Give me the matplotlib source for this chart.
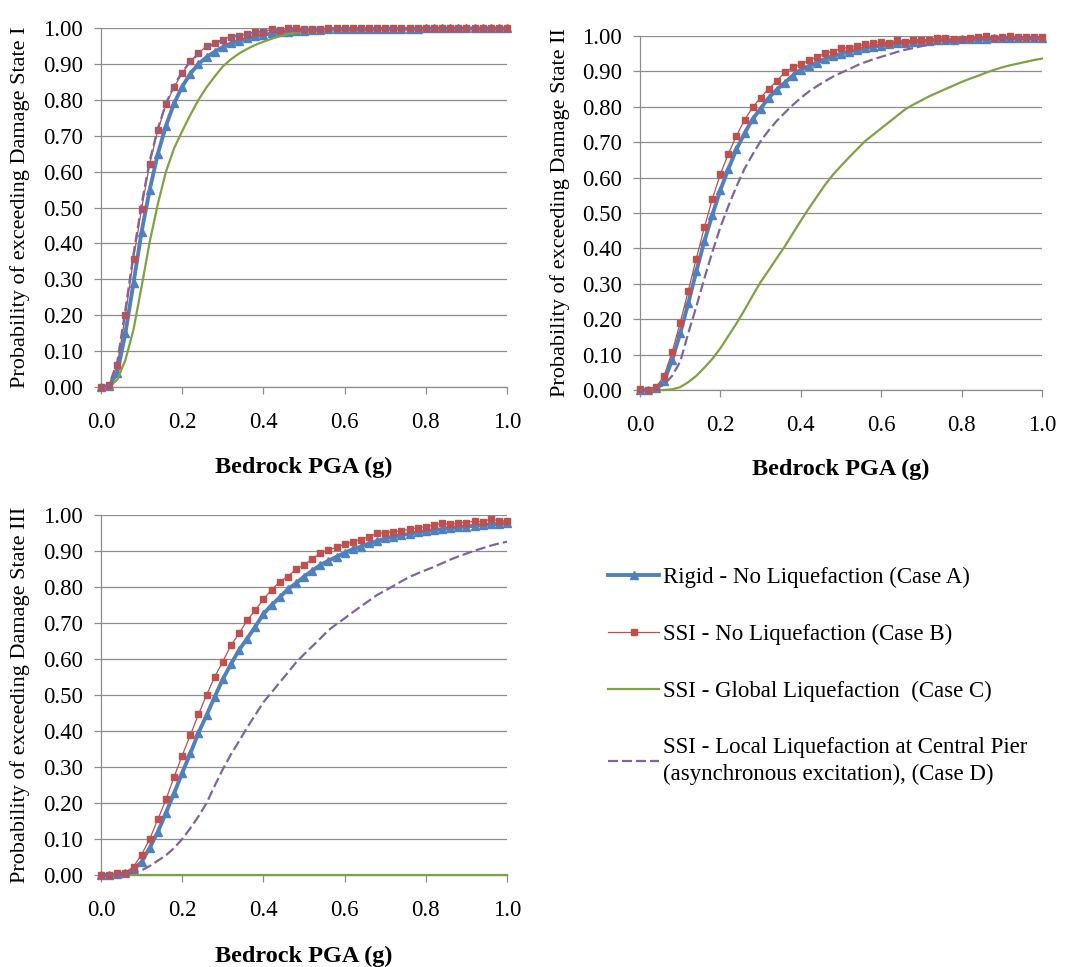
import matplotlib
matplotlib.use("Agg")
import matplotlib.pyplot as plt
from matplotlib.ticker import FormatStrFormatter

plt.rcParams['font.family'] = ['Liberation Serif', 'DejaVu Serif']

# bedrock PGA (g), one point every 0.02 g
pga = [0.00, 0.02, 0.04, 0.06, 0.08, 0.10, 0.12, 0.14, 0.16, 0.18,
       0.20, 0.22, 0.24, 0.26, 0.28, 0.30, 0.32, 0.34, 0.36, 0.38,
       0.40, 0.42, 0.44, 0.46, 0.48, 0.50, 0.52, 0.54, 0.56, 0.58,
       0.60, 0.62, 0.64, 0.66, 0.68, 0.70, 0.72, 0.74, 0.76, 0.78,
       0.80, 0.82, 0.84, 0.86, 0.88, 0.90, 0.92, 0.94, 0.96, 0.98, 1.00]

# Damage State I
ds1_case_a = [0.000, 0.002, 0.040, 0.150, 0.290, 0.433, 0.550, 0.650, 0.728, 0.790,
              0.837, 0.873, 0.900, 0.919, 0.934, 0.947, 0.957, 0.965, 0.971, 0.977,
              0.981, 0.985, 0.988, 0.990, 0.992, 0.993, 0.994, 0.995, 0.996, 0.996,
              0.997, 0.997, 0.997, 0.997, 0.998, 0.998, 0.998, 0.998, 0.998, 0.998,
              0.999, 0.999, 0.999, 0.999, 0.999, 0.999, 0.999, 0.999, 0.999, 0.999, 0.999]
ds1_case_b = [0.000, 0.005, 0.060, 0.200, 0.356, 0.497, 0.622, 0.715, 0.787, 0.836,
              0.874, 0.908, 0.930, 0.950, 0.957, 0.968, 0.976, 0.978, 0.983, 0.988,
              0.990, 0.996, 0.995, 1.000, 1.000, 0.998, 0.997, 0.998, 0.999, 1.000,
              1.000, 1.000, 1.000, 1.000, 1.000, 0.999, 1.000, 0.999, 0.999, 0.999,
              0.999, 0.999, 0.999, 0.999, 0.999, 0.999, 0.999, 0.999, 0.999, 0.999, 0.999]
ds1_case_c = [0.000, 0.000, 0.020, 0.075, 0.160, 0.280, 0.405, 0.510, 0.600, 0.665,
              0.713, 0.758, 0.800, 0.835, 0.865, 0.893, 0.913, 0.929, 0.942, 0.953,
              0.962, 0.970, 0.977, 0.983, 0.987, 0.990, 0.992, 0.994, 0.995, 0.996,
              0.997, 0.997, 0.997, 0.998, 0.998, 0.998, 0.998, 0.998, 0.998, 0.999,
              0.999, 0.999, 0.999, 0.999, 0.999, 0.999, 0.999, 0.999, 0.999, 0.999, 0.999]
ds1_case_d = [0.000, 0.006, 0.070, 0.215, 0.370, 0.510, 0.630, 0.720, 0.790, 0.840,
              0.878, 0.906, 0.928, 0.945, 0.957, 0.967, 0.974, 0.980, 0.984, 0.988,
              0.991, 0.993, 0.995, 0.996, 0.997, 0.998, 0.998, 0.999, 0.999, 0.999,
              0.999, 0.999, 0.999, 0.999, 0.999, 0.999, 0.999, 0.999, 0.999, 0.999,
              0.999, 0.999, 0.999, 0.999, 0.999, 0.999, 0.999, 0.999, 0.999, 0.999, 0.999]

# Damage State II
ds2_case_a = [0.000, 0.000, 0.005, 0.025, 0.085, 0.160, 0.245, 0.335, 0.420, 0.495,
              0.565, 0.625, 0.680, 0.725, 0.765, 0.795, 0.825, 0.848, 0.868, 0.888,
              0.905, 0.915, 0.925, 0.935, 0.943, 0.950, 0.956, 0.961, 0.966, 0.970,
              0.973, 0.976, 0.979, 0.981, 0.983, 0.985, 0.987, 0.988, 0.989, 0.990,
              0.991, 0.991, 0.992, 0.992, 0.993, 0.993, 0.993, 0.994, 0.994, 0.994, 0.994]
ds2_case_b = [0.002, 0.000, 0.008, 0.040, 0.108, 0.190, 0.280, 0.371, 0.459, 0.540,
              0.610, 0.668, 0.718, 0.763, 0.798, 0.826, 0.850, 0.873, 0.897, 0.911,
              0.920, 0.931, 0.941, 0.951, 0.956, 0.965, 0.967, 0.972, 0.976, 0.979,
              0.984, 0.980, 0.989, 0.984, 0.990, 0.989, 0.989, 0.995, 0.993, 0.992,
              0.992, 0.994, 0.996, 0.999, 0.995, 0.998, 0.999, 0.996, 0.997, 0.997, 0.996]
ds2_case_c = [0.000, 0.000, 0.000, 0.000, 0.002, 0.008, 0.022, 0.040, 0.063, 0.088,
              0.118, 0.153, 0.188, 0.226, 0.266, 0.305, 0.338, 0.372, 0.405, 0.442,
              0.478, 0.513, 0.546, 0.579, 0.608, 0.633, 0.657, 0.680, 0.703, 0.721,
              0.739, 0.757, 0.775, 0.793, 0.806, 0.818, 0.830, 0.840, 0.850, 0.860,
              0.870, 0.879, 0.887, 0.896, 0.904, 0.911, 0.917, 0.922, 0.927, 0.932, 0.936]
ds2_case_d = [0.000, 0.000, 0.004, 0.015, 0.040, 0.080, 0.160, 0.235, 0.315, 0.390,
              0.460, 0.520, 0.575, 0.625, 0.665, 0.703, 0.733, 0.760, 0.783, 0.805,
              0.825, 0.843, 0.858, 0.872, 0.885, 0.896, 0.906, 0.917, 0.926, 0.934,
              0.941, 0.948, 0.955, 0.961, 0.966, 0.971, 0.975, 0.978, 0.981, 0.984,
              0.986, 0.988, 0.989, 0.990, 0.991, 0.992, 0.993, 0.993, 0.994, 0.994, 0.995]

# Damage State III
ds3_case_a = [0.000, 0.000, 0.002, 0.005, 0.015, 0.037, 0.076, 0.120, 0.173, 0.227,
              0.284, 0.338, 0.395, 0.444, 0.495, 0.544, 0.586, 0.625, 0.657, 0.690,
              0.725, 0.750, 0.771, 0.794, 0.810, 0.829, 0.845, 0.861, 0.873, 0.884,
              0.895, 0.905, 0.912, 0.921, 0.928, 0.935, 0.940, 0.944, 0.948, 0.952,
              0.955, 0.958, 0.961, 0.964, 0.966, 0.968, 0.970, 0.972, 0.974, 0.975, 0.977]
ds3_case_b = [0.000, 0.000, 0.005, 0.007, 0.023, 0.057, 0.100, 0.155, 0.210, 0.273,
              0.332, 0.389, 0.446, 0.500, 0.551, 0.593, 0.638, 0.671, 0.708, 0.736,
              0.766, 0.792, 0.815, 0.829, 0.849, 0.861, 0.878, 0.894, 0.903, 0.910,
              0.919, 0.926, 0.932, 0.940, 0.949, 0.951, 0.954, 0.956, 0.960, 0.965,
              0.968, 0.972, 0.977, 0.974, 0.979, 0.979, 0.983, 0.981, 0.989, 0.984, 0.984]
ds3_case_c = [0.0] * 51  # stays at zero over the whole range
ds3_case_d = [0.000, 0.000, 0.001, 0.003, 0.006, 0.013, 0.025, 0.040, 0.055, 0.075,
              0.100, 0.130, 0.163, 0.200, 0.248, 0.294, 0.335, 0.372, 0.410, 0.445,
              0.480, 0.507, 0.535, 0.562, 0.590, 0.613, 0.635, 0.657, 0.680, 0.697,
              0.713, 0.730, 0.746, 0.762, 0.778, 0.790, 0.803, 0.816, 0.828, 0.838,
              0.847, 0.856, 0.866, 0.876, 0.885, 0.893, 0.901, 0.908, 0.915, 0.921, 0.926]

labels = ['Rigid - No Liquefaction (Case A)',
          'SSI - No Liquefaction (Case B)',
          'SSI - Global Liquefaction  (Case C)',
          'SSI - Local Liquefaction at Central Pier\n(asynchronous excitation), (Case D)']

BLUE = '#4F81BD'
RED = '#C0504D'
GREEN = '#7FA243'
PURPLE = '#8064A2'
GRID = '#8C8C8C'

fig = plt.figure(figsize=(10.69, 9.67), dpi=100)

panels = [
    ([0.0945, 0.5998, 0.3798, 0.3712], 'Probability of exceeding Damage State I',
     (ds1_case_a, ds1_case_b, ds1_case_c, ds1_case_d)),
    ([0.5987, 0.5967, 0.3760, 0.3661], 'Probability of exceeding Damage State II',
     (ds2_case_a, ds2_case_b, ds2_case_c, ds2_case_d)),
    ([0.0945, 0.0951, 0.3798, 0.3723], 'Probability of exceeding Damage State III',
     (ds3_case_a, ds3_case_b, ds3_case_c, ds3_case_d)),
]

handles = None
for rect, ylab, (ca, cb, cc, cd) in panels:
    ax = fig.add_axes(rect)
    la, = ax.plot(pga, ca, color=BLUE, lw=2.8, marker='^', ms=6, mec=BLUE, clip_on=False, zorder=3)
    lb, = ax.plot(pga, cb, color=RED, lw=0.9, marker='s', ms=5, mec=RED, clip_on=False, zorder=4)
    lc, = ax.plot(pga, cc, color=GREEN, lw=1.6, clip_on=False, zorder=3)
    ld, = ax.plot(pga, cd, color=PURPLE, lw=1.6, ls=(0, (4.5, 1.8)), clip_on=False, zorder=5)
    handles = [la, lb, lc, ld]

    ax.set_xlim(0, 1)
    ax.set_ylim(0, 1)
    ax.set_xticks([0, 0.2, 0.4, 0.6, 0.8, 1.0])
    ax.set_yticks([i / 10 for i in range(11)])
    ax.xaxis.set_major_formatter(FormatStrFormatter('%.1f'))
    ax.yaxis.set_major_formatter(FormatStrFormatter('%.2f'))
    ax.grid(axis='y', color=GRID, lw=0.9)
    ax.set_axisbelow(True)
    for s in ['top', 'right']:
        ax.spines[s].set_visible(False)
    for s in ['left', 'bottom']:
        ax.spines[s].set_color(GRID)
        ax.spines[s].set_linewidth(0.9)
    ax.tick_params(axis='both', direction='out', color=GRID, length=5, width=0.9, labelsize=16.5)
    ax.tick_params(axis='x', pad=13)
    ax.tick_params(axis='y', pad=8)

    ax.set_xlabel('Bedrock PGA (g)', fontsize=17.5, fontweight='bold')
    ax.xaxis.set_label_coords(0.5, -0.225)
    ax.xaxis.label.set_va('center')
    ax.set_ylabel(ylab, fontsize=16)
    ax.yaxis.set_label_coords(-0.2, 0.5)
    ax.yaxis.label.set_va('center')

leg = fig.legend(handles, labels, loc='upper left', bbox_to_anchor=(0.5585, 0.4255),
                 frameon=False, fontsize=16.5, numpoints=1, handlelength=2.2,
                 handletextpad=0.2, labelspacing=1.55, borderpad=0)
for t in leg.get_texts():
    t.set_linespacing(1.35)

fig.savefig('out.png', dpi=100)
